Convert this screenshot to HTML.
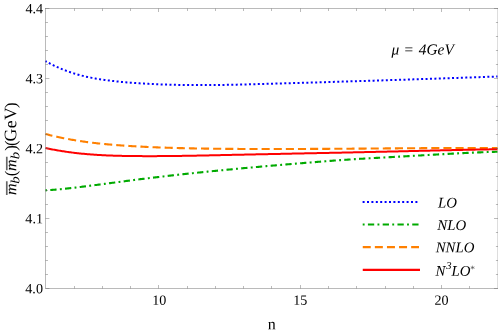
<!DOCTYPE html>
<html><head><meta charset="utf-8"><style>
html,body{margin:0;padding:0;background:#fff;}
body{width:498px;height:334px;overflow:hidden;position:relative;font-family:"Liberation Serif",serif;}
svg{position:absolute;left:0;top:0;}
g.txt{filter:grayscale(1);}
text{font-family:"Liberation Serif",serif;fill:#000;text-rendering:geometricPrecision;}
.tk{font-size:14.1px;}
.lg{font-size:14.8px;font-style:italic;}
</style></head><body>
<svg width="498" height="334" viewBox="0 0 498 334">
<rect x="0" y="0" width="498" height="334" fill="#fff"/>
<g fill="none" stroke-linecap="butt" stroke-linejoin="round">
<path d="M45.50,61.13 L46.63,61.76 L47.77,62.39 L48.90,62.99 L50.03,63.59 L51.16,64.17 L52.30,64.74 L53.43,65.30 L54.56,65.85 L55.70,66.38 L56.83,66.90 L57.96,67.41 L59.09,67.91 L60.23,68.39 L61.36,68.87 L62.49,69.33 L63.63,69.78 L64.76,70.22 L65.89,70.65 L67.02,71.07 L68.16,71.48 L69.29,71.88 L70.42,72.26 L71.56,72.64 L72.69,73.00 L73.82,73.36 L74.95,73.71 L76.09,74.05 L77.22,74.37 L78.35,74.69 L79.48,75.00 L80.62,75.30 L81.75,75.60 L82.88,75.88 L84.02,76.15 L85.15,76.42 L86.28,76.68 L87.41,76.93 L88.55,77.18 L89.68,77.41 L90.81,77.64 L91.95,77.87 L93.08,78.08 L94.21,78.29 L95.34,78.49 L96.48,78.69 L97.61,78.88 L98.74,79.07 L99.88,79.25 L101.01,79.42 L102.14,79.59 L103.27,79.76 L104.41,79.92 L105.54,80.07 L106.67,80.22 L107.81,80.37 L108.94,80.51 L110.07,80.65 L111.20,80.79 L112.34,80.92 L113.47,81.05 L114.60,81.18 L115.74,81.31 L116.87,81.43 L118.00,81.54 L119.13,81.66 L120.27,81.77 L121.40,81.88 L122.53,81.99 L123.67,82.09 L124.80,82.19 L125.93,82.29 L127.06,82.39 L128.20,82.48 L129.33,82.57 L130.46,82.67 L131.60,82.75 L132.73,82.84 L133.86,82.92 L134.99,83.01 L136.13,83.09 L137.26,83.17 L138.39,83.25 L139.53,83.32 L140.66,83.39 L141.79,83.47 L142.92,83.54 L144.06,83.60 L145.19,83.67 L146.32,83.74 L147.45,83.80 L148.59,83.86 L149.72,83.92 L150.85,83.98 L151.99,84.03 L153.12,84.09 L154.25,84.14 L155.38,84.19 L156.52,84.24 L157.65,84.29 L158.78,84.34 L159.92,84.38 L161.05,84.43 L162.18,84.47 L163.31,84.51 L164.45,84.55 L165.58,84.59 L166.71,84.62 L167.85,84.66 L168.98,84.69 L170.11,84.72 L171.24,84.75 L172.38,84.78 L173.51,84.81 L174.64,84.84 L175.78,84.86 L176.91,84.88 L178.04,84.91 L179.17,84.93 L180.31,84.95 L181.44,84.97 L182.57,84.98 L183.71,85.00 L184.84,85.01 L185.97,85.03 L187.10,85.04 L188.24,85.05 L189.37,85.06 L190.50,85.07 L191.64,85.08 L192.77,85.08 L193.90,85.09 L195.03,85.09 L196.17,85.10 L197.30,85.10 L198.43,85.10 L199.57,85.10 L200.70,85.10 L201.83,85.10 L202.96,85.09 L204.10,85.09 L205.23,85.09 L206.36,85.08 L207.49,85.07 L208.63,85.07 L209.76,85.06 L210.89,85.05 L212.03,85.04 L213.16,85.03 L214.29,85.02 L215.42,85.00 L216.56,84.99 L217.69,84.98 L218.82,84.96 L219.96,84.95 L221.09,84.93 L222.22,84.91 L223.35,84.89 L224.49,84.88 L225.62,84.86 L226.75,84.84 L227.89,84.82 L229.02,84.80 L230.15,84.78 L231.28,84.75 L232.42,84.73 L233.55,84.71 L234.68,84.68 L235.82,84.66 L236.95,84.63 L238.08,84.61 L239.21,84.58 L240.35,84.56 L241.48,84.53 L242.61,84.50 L243.75,84.48 L244.88,84.45 L246.01,84.42 L247.14,84.39 L248.28,84.36 L249.41,84.33 L250.54,84.30 L251.68,84.27 L252.81,84.24 L253.94,84.21 L255.07,84.18 L256.21,84.15 L257.34,84.12 L258.47,84.09 L259.61,84.06 L260.74,84.03 L261.87,83.99 L263.00,83.96 L264.14,83.93 L265.27,83.90 L266.40,83.87 L267.54,83.83 L268.67,83.80 L269.80,83.77 L270.93,83.74 L272.07,83.70 L273.20,83.67 L274.33,83.64 L275.46,83.61 L276.60,83.57 L277.73,83.54 L278.86,83.51 L280.00,83.47 L281.13,83.44 L282.26,83.41 L283.39,83.38 L284.53,83.34 L285.66,83.31 L286.79,83.28 L287.93,83.24 L289.06,83.21 L290.19,83.18 L291.32,83.14 L292.46,83.11 L293.59,83.08 L294.72,83.05 L295.86,83.01 L296.99,82.98 L298.12,82.95 L299.25,82.91 L300.39,82.88 L301.52,82.85 L302.65,82.81 L303.79,82.78 L304.92,82.74 L306.05,82.71 L307.18,82.68 L308.32,82.64 L309.45,82.61 L310.58,82.58 L311.72,82.54 L312.85,82.51 L313.98,82.48 L315.11,82.44 L316.25,82.41 L317.38,82.37 L318.51,82.34 L319.65,82.31 L320.78,82.27 L321.91,82.24 L323.04,82.20 L324.18,82.17 L325.31,82.14 L326.44,82.10 L327.58,82.07 L328.71,82.03 L329.84,82.00 L330.97,81.97 L332.11,81.93 L333.24,81.90 L334.37,81.86 L335.51,81.83 L336.64,81.79 L337.77,81.76 L338.90,81.72 L340.04,81.69 L341.17,81.65 L342.30,81.62 L343.43,81.59 L344.57,81.55 L345.70,81.52 L346.83,81.48 L347.97,81.45 L349.10,81.41 L350.23,81.38 L351.36,81.34 L352.50,81.31 L353.63,81.27 L354.76,81.24 L355.90,81.20 L357.03,81.17 L358.16,81.13 L359.29,81.10 L360.43,81.06 L361.56,81.03 L362.69,80.99 L363.83,80.96 L364.96,80.92 L366.09,80.88 L367.22,80.85 L368.36,80.81 L369.49,80.78 L370.62,80.74 L371.76,80.71 L372.89,80.67 L374.02,80.64 L375.15,80.60 L376.29,80.56 L377.42,80.53 L378.55,80.49 L379.69,80.46 L380.82,80.42 L381.95,80.39 L383.08,80.35 L384.22,80.31 L385.35,80.28 L386.48,80.24 L387.62,80.21 L388.75,80.17 L389.88,80.13 L391.01,80.10 L392.15,80.06 L393.28,80.02 L394.41,79.99 L395.55,79.95 L396.68,79.91 L397.81,79.88 L398.94,79.84 L400.08,79.81 L401.21,79.77 L402.34,79.73 L403.47,79.70 L404.61,79.66 L405.74,79.62 L406.87,79.59 L408.01,79.55 L409.14,79.51 L410.27,79.47 L411.40,79.44 L412.54,79.40 L413.67,79.36 L414.80,79.33 L415.94,79.29 L417.07,79.25 L418.20,79.22 L419.33,79.18 L420.47,79.14 L421.60,79.10 L422.73,79.07 L423.87,79.03 L425.00,78.99 L426.13,78.95 L427.26,78.92 L428.40,78.88 L429.53,78.84 L430.66,78.80 L431.80,78.77 L432.93,78.73 L434.06,78.69 L435.19,78.65 L436.33,78.61 L437.46,78.58 L438.59,78.54 L439.73,78.50 L440.86,78.46 L441.99,78.42 L443.12,78.39 L444.26,78.35 L445.39,78.31 L446.52,78.27 L447.66,78.23 L448.79,78.20 L449.92,78.16 L451.05,78.12 L452.19,78.08 L453.32,78.04 L454.45,78.00 L455.59,77.96 L456.72,77.93 L457.85,77.89 L458.98,77.85 L460.12,77.81 L461.25,77.77 L462.38,77.73 L463.52,77.69 L464.65,77.65 L465.78,77.62 L466.91,77.58 L468.05,77.54 L469.18,77.50 L470.31,77.46 L471.44,77.42 L472.58,77.38 L473.71,77.34 L474.84,77.30 L475.98,77.26 L477.11,77.22 L478.24,77.18 L479.37,77.14 L480.51,77.10 L481.64,77.07 L482.77,77.03 L483.91,76.99 L485.04,76.95 L486.17,76.91 L487.30,76.87 L488.44,76.83 L489.57,76.79 L490.70,76.75 L491.84,76.71 L492.97,76.67 L494.10,76.63 L495.23,76.59 L496.37,76.55 L497.50,76.51" stroke="#0000ff" stroke-width="2" stroke-dasharray="2 2.417" stroke-dashoffset="0.6"/>
<path d="M45.50,190.39 L46.63,190.32 L47.77,190.24 L48.90,190.16 L50.03,190.08 L51.16,190.00 L52.30,189.91 L53.43,189.82 L54.56,189.72 L55.70,189.63 L56.83,189.53 L57.96,189.42 L59.09,189.32 L60.23,189.21 L61.36,189.10 L62.49,188.99 L63.63,188.88 L64.76,188.76 L65.89,188.64 L67.02,188.52 L68.16,188.40 L69.29,188.27 L70.42,188.15 L71.56,188.02 L72.69,187.89 L73.82,187.76 L74.95,187.63 L76.09,187.49 L77.22,187.36 L78.35,187.22 L79.48,187.08 L80.62,186.94 L81.75,186.80 L82.88,186.66 L84.02,186.52 L85.15,186.38 L86.28,186.23 L87.41,186.09 L88.55,185.95 L89.68,185.80 L90.81,185.65 L91.95,185.51 L93.08,185.36 L94.21,185.21 L95.34,185.07 L96.48,184.92 L97.61,184.77 L98.74,184.62 L99.88,184.47 L101.01,184.33 L102.14,184.18 L103.27,184.03 L104.41,183.88 L105.54,183.73 L106.67,183.58 L107.81,183.43 L108.94,183.28 L110.07,183.13 L111.20,182.98 L112.34,182.83 L113.47,182.68 L114.60,182.53 L115.74,182.38 L116.87,182.23 L118.00,182.08 L119.13,181.93 L120.27,181.78 L121.40,181.63 L122.53,181.49 L123.67,181.34 L124.80,181.19 L125.93,181.04 L127.06,180.89 L128.20,180.75 L129.33,180.60 L130.46,180.45 L131.60,180.31 L132.73,180.16 L133.86,180.02 L134.99,179.87 L136.13,179.73 L137.26,179.59 L138.39,179.44 L139.53,179.30 L140.66,179.16 L141.79,179.02 L142.92,178.88 L144.06,178.74 L145.19,178.60 L146.32,178.46 L147.45,178.32 L148.59,178.18 L149.72,178.04 L150.85,177.91 L151.99,177.77 L153.12,177.63 L154.25,177.50 L155.38,177.36 L156.52,177.23 L157.65,177.10 L158.78,176.96 L159.92,176.83 L161.05,176.70 L162.18,176.56 L163.31,176.43 L164.45,176.30 L165.58,176.17 L166.71,176.04 L167.85,175.91 L168.98,175.78 L170.11,175.65 L171.24,175.53 L172.38,175.40 L173.51,175.27 L174.64,175.14 L175.78,175.02 L176.91,174.89 L178.04,174.77 L179.17,174.64 L180.31,174.52 L181.44,174.39 L182.57,174.27 L183.71,174.15 L184.84,174.02 L185.97,173.90 L187.10,173.78 L188.24,173.66 L189.37,173.54 L190.50,173.41 L191.64,173.29 L192.77,173.17 L193.90,173.06 L195.03,172.94 L196.17,172.82 L197.30,172.70 L198.43,172.58 L199.57,172.46 L200.70,172.35 L201.83,172.23 L202.96,172.11 L204.10,172.00 L205.23,171.88 L206.36,171.77 L207.49,171.65 L208.63,171.54 L209.76,171.42 L210.89,171.31 L212.03,171.20 L213.16,171.08 L214.29,170.97 L215.42,170.86 L216.56,170.75 L217.69,170.64 L218.82,170.53 L219.96,170.41 L221.09,170.30 L222.22,170.19 L223.35,170.08 L224.49,169.98 L225.62,169.87 L226.75,169.76 L227.89,169.65 L229.02,169.54 L230.15,169.43 L231.28,169.33 L232.42,169.22 L233.55,169.11 L234.68,169.01 L235.82,168.90 L236.95,168.79 L238.08,168.69 L239.21,168.58 L240.35,168.48 L241.48,168.37 L242.61,168.27 L243.75,168.17 L244.88,168.06 L246.01,167.96 L247.14,167.86 L248.28,167.75 L249.41,167.65 L250.54,167.55 L251.68,167.45 L252.81,167.34 L253.94,167.24 L255.07,167.14 L256.21,167.04 L257.34,166.94 L258.47,166.84 L259.61,166.74 L260.74,166.64 L261.87,166.54 L263.00,166.44 L264.14,166.34 L265.27,166.24 L266.40,166.14 L267.54,166.04 L268.67,165.95 L269.80,165.85 L270.93,165.75 L272.07,165.65 L273.20,165.55 L274.33,165.46 L275.46,165.36 L276.60,165.26 L277.73,165.17 L278.86,165.07 L280.00,164.98 L281.13,164.88 L282.26,164.78 L283.39,164.69 L284.53,164.59 L285.66,164.50 L286.79,164.40 L287.93,164.31 L289.06,164.21 L290.19,164.12 L291.32,164.03 L292.46,163.93 L293.59,163.84 L294.72,163.74 L295.86,163.65 L296.99,163.56 L298.12,163.46 L299.25,163.37 L300.39,163.28 L301.52,163.19 L302.65,163.09 L303.79,163.00 L304.92,162.91 L306.05,162.82 L307.18,162.72 L308.32,162.63 L309.45,162.54 L310.58,162.45 L311.72,162.36 L312.85,162.27 L313.98,162.18 L315.11,162.08 L316.25,161.99 L317.38,161.90 L318.51,161.81 L319.65,161.72 L320.78,161.63 L321.91,161.54 L323.04,161.45 L324.18,161.36 L325.31,161.27 L326.44,161.18 L327.58,161.09 L328.71,161.00 L329.84,160.92 L330.97,160.83 L332.11,160.74 L333.24,160.66 L334.37,160.57 L335.51,160.49 L336.64,160.40 L337.77,160.32 L338.90,160.24 L340.04,160.16 L341.17,160.08 L342.30,160.00 L343.43,159.92 L344.57,159.84 L345.70,159.76 L346.83,159.69 L347.97,159.61 L349.10,159.53 L350.23,159.46 L351.36,159.39 L352.50,159.31 L353.63,159.24 L354.76,159.17 L355.90,159.10 L357.03,159.03 L358.16,158.96 L359.29,158.89 L360.43,158.82 L361.56,158.75 L362.69,158.69 L363.83,158.62 L364.96,158.55 L366.09,158.49 L367.22,158.42 L368.36,158.35 L369.49,158.29 L370.62,158.22 L371.76,158.16 L372.89,158.10 L374.02,158.03 L375.15,157.97 L376.29,157.90 L377.42,157.84 L378.55,157.78 L379.69,157.72 L380.82,157.65 L381.95,157.59 L383.08,157.53 L384.22,157.47 L385.35,157.40 L386.48,157.34 L387.62,157.28 L388.75,157.22 L389.88,157.16 L391.01,157.09 L392.15,157.03 L393.28,156.97 L394.41,156.91 L395.55,156.84 L396.68,156.78 L397.81,156.72 L398.94,156.66 L400.08,156.59 L401.21,156.53 L402.34,156.46 L403.47,156.40 L404.61,156.34 L405.74,156.27 L406.87,156.21 L408.01,156.14 L409.14,156.08 L410.27,156.01 L411.40,155.95 L412.54,155.88 L413.67,155.82 L414.80,155.75 L415.94,155.69 L417.07,155.62 L418.20,155.56 L419.33,155.49 L420.47,155.43 L421.60,155.36 L422.73,155.29 L423.87,155.23 L425.00,155.16 L426.13,155.10 L427.26,155.03 L428.40,154.97 L429.53,154.90 L430.66,154.84 L431.80,154.78 L432.93,154.71 L434.06,154.65 L435.19,154.58 L436.33,154.52 L437.46,154.45 L438.59,154.39 L439.73,154.33 L440.86,154.27 L441.99,154.20 L443.12,154.14 L444.26,154.08 L445.39,154.02 L446.52,153.96 L447.66,153.89 L448.79,153.83 L449.92,153.77 L451.05,153.71 L452.19,153.65 L453.32,153.59 L454.45,153.54 L455.59,153.48 L456.72,153.42 L457.85,153.36 L458.98,153.30 L460.12,153.25 L461.25,153.19 L462.38,153.14 L463.52,153.08 L464.65,153.03 L465.78,152.97 L466.91,152.92 L468.05,152.87 L469.18,152.82 L470.31,152.76 L471.44,152.71 L472.58,152.66 L473.71,152.61 L474.84,152.56 L475.98,152.52 L477.11,152.47 L478.24,152.42 L479.37,152.38 L480.51,152.33 L481.64,152.29 L482.77,152.24 L483.91,152.20 L485.04,152.16 L486.17,152.11 L487.30,152.07 L488.44,152.03 L489.57,151.99 L490.70,151.96 L491.84,151.92 L492.97,151.88 L494.10,151.85 L495.23,151.81 L496.37,151.78 L497.50,151.75" stroke="#00aa00" stroke-width="2.1" stroke-dasharray="6.3 3.3 1.9 3.28" stroke-dashoffset="-4.81"/>
<path d="M45.50,134.01 L46.63,134.31 L47.77,134.60 L48.90,134.88 L50.03,135.16 L51.16,135.44 L52.30,135.71 L53.43,135.98 L54.56,136.24 L55.70,136.50 L56.83,136.75 L57.96,137.00 L59.09,137.24 L60.23,137.49 L61.36,137.72 L62.49,137.95 L63.63,138.18 L64.76,138.41 L65.89,138.62 L67.02,138.84 L68.16,139.05 L69.29,139.26 L70.42,139.46 L71.56,139.67 L72.69,139.86 L73.82,140.05 L74.95,140.24 L76.09,140.43 L77.22,140.61 L78.35,140.79 L79.48,140.97 L80.62,141.14 L81.75,141.31 L82.88,141.47 L84.02,141.63 L85.15,141.79 L86.28,141.95 L87.41,142.10 L88.55,142.25 L89.68,142.39 L90.81,142.54 L91.95,142.68 L93.08,142.81 L94.21,142.95 L95.34,143.08 L96.48,143.21 L97.61,143.34 L98.74,143.46 L99.88,143.58 L101.01,143.70 L102.14,143.82 L103.27,143.93 L104.41,144.04 L105.54,144.15 L106.67,144.26 L107.81,144.36 L108.94,144.46 L110.07,144.56 L111.20,144.66 L112.34,144.75 L113.47,144.85 L114.60,144.94 L115.74,145.03 L116.87,145.12 L118.00,145.20 L119.13,145.29 L120.27,145.37 L121.40,145.45 L122.53,145.53 L123.67,145.61 L124.80,145.68 L125.93,145.76 L127.06,145.83 L128.20,145.90 L129.33,145.97 L130.46,146.04 L131.60,146.11 L132.73,146.18 L133.86,146.24 L134.99,146.31 L136.13,146.37 L137.26,146.43 L138.39,146.49 L139.53,146.55 L140.66,146.61 L141.79,146.67 L142.92,146.73 L144.06,146.78 L145.19,146.84 L146.32,146.89 L147.45,146.95 L148.59,147.00 L149.72,147.05 L150.85,147.10 L151.99,147.15 L153.12,147.20 L154.25,147.24 L155.38,147.29 L156.52,147.34 L157.65,147.38 L158.78,147.43 L159.92,147.47 L161.05,147.51 L162.18,147.55 L163.31,147.59 L164.45,147.63 L165.58,147.67 L166.71,147.71 L167.85,147.75 L168.98,147.79 L170.11,147.82 L171.24,147.86 L172.38,147.89 L173.51,147.93 L174.64,147.96 L175.78,147.99 L176.91,148.02 L178.04,148.05 L179.17,148.08 L180.31,148.11 L181.44,148.14 L182.57,148.17 L183.71,148.20 L184.84,148.22 L185.97,148.25 L187.10,148.28 L188.24,148.30 L189.37,148.32 L190.50,148.35 L191.64,148.37 L192.77,148.39 L193.90,148.42 L195.03,148.44 L196.17,148.46 L197.30,148.48 L198.43,148.50 L199.57,148.52 L200.70,148.54 L201.83,148.55 L202.96,148.57 L204.10,148.59 L205.23,148.61 L206.36,148.62 L207.49,148.64 L208.63,148.65 L209.76,148.67 L210.89,148.68 L212.03,148.70 L213.16,148.71 L214.29,148.72 L215.42,148.74 L216.56,148.75 L217.69,148.76 L218.82,148.77 L219.96,148.78 L221.09,148.79 L222.22,148.81 L223.35,148.82 L224.49,148.83 L225.62,148.84 L226.75,148.84 L227.89,148.85 L229.02,148.86 L230.15,148.87 L231.28,148.88 L232.42,148.89 L233.55,148.90 L234.68,148.90 L235.82,148.91 L236.95,148.92 L238.08,148.92 L239.21,148.93 L240.35,148.94 L241.48,148.94 L242.61,148.95 L243.75,148.95 L244.88,148.96 L246.01,148.96 L247.14,148.97 L248.28,148.97 L249.41,148.98 L250.54,148.98 L251.68,148.99 L252.81,148.99 L253.94,148.99 L255.07,149.00 L256.21,149.00 L257.34,149.00 L258.47,149.00 L259.61,149.01 L260.74,149.01 L261.87,149.01 L263.00,149.01 L264.14,149.01 L265.27,149.01 L266.40,149.02 L267.54,149.02 L268.67,149.02 L269.80,149.02 L270.93,149.02 L272.07,149.02 L273.20,149.02 L274.33,149.02 L275.46,149.02 L276.60,149.02 L277.73,149.02 L278.86,149.02 L280.00,149.01 L281.13,149.01 L282.26,149.01 L283.39,149.01 L284.53,149.01 L285.66,149.01 L286.79,149.00 L287.93,149.00 L289.06,149.00 L290.19,149.00 L291.32,148.99 L292.46,148.99 L293.59,148.99 L294.72,148.98 L295.86,148.98 L296.99,148.98 L298.12,148.97 L299.25,148.97 L300.39,148.97 L301.52,148.96 L302.65,148.96 L303.79,148.95 L304.92,148.95 L306.05,148.94 L307.18,148.94 L308.32,148.93 L309.45,148.93 L310.58,148.92 L311.72,148.92 L312.85,148.91 L313.98,148.91 L315.11,148.90 L316.25,148.90 L317.38,148.89 L318.51,148.89 L319.65,148.88 L320.78,148.87 L321.91,148.87 L323.04,148.86 L324.18,148.85 L325.31,148.85 L326.44,148.84 L327.58,148.83 L328.71,148.83 L329.84,148.82 L330.97,148.81 L332.11,148.81 L333.24,148.80 L334.37,148.79 L335.51,148.79 L336.64,148.78 L337.77,148.77 L338.90,148.76 L340.04,148.76 L341.17,148.75 L342.30,148.74 L343.43,148.73 L344.57,148.73 L345.70,148.72 L346.83,148.71 L347.97,148.70 L349.10,148.69 L350.23,148.69 L351.36,148.68 L352.50,148.67 L353.63,148.66 L354.76,148.65 L355.90,148.64 L357.03,148.64 L358.16,148.63 L359.29,148.62 L360.43,148.61 L361.56,148.60 L362.69,148.59 L363.83,148.59 L364.96,148.58 L366.09,148.57 L367.22,148.56 L368.36,148.55 L369.49,148.54 L370.62,148.54 L371.76,148.53 L372.89,148.52 L374.02,148.51 L375.15,148.50 L376.29,148.49 L377.42,148.48 L378.55,148.48 L379.69,148.47 L380.82,148.46 L381.95,148.45 L383.08,148.44 L384.22,148.43 L385.35,148.42 L386.48,148.42 L387.62,148.41 L388.75,148.40 L389.88,148.39 L391.01,148.38 L392.15,148.37 L393.28,148.37 L394.41,148.36 L395.55,148.35 L396.68,148.34 L397.81,148.33 L398.94,148.32 L400.08,148.32 L401.21,148.31 L402.34,148.30 L403.47,148.29 L404.61,148.28 L405.74,148.28 L406.87,148.27 L408.01,148.26 L409.14,148.25 L410.27,148.25 L411.40,148.24 L412.54,148.23 L413.67,148.22 L414.80,148.22 L415.94,148.21 L417.07,148.20 L418.20,148.19 L419.33,148.19 L420.47,148.18 L421.60,148.17 L422.73,148.17 L423.87,148.16 L425.00,148.15 L426.13,148.15 L427.26,148.14 L428.40,148.13 L429.53,148.13 L430.66,148.12 L431.80,148.12 L432.93,148.11 L434.06,148.10 L435.19,148.10 L436.33,148.09 L437.46,148.09 L438.59,148.08 L439.73,148.08 L440.86,148.07 L441.99,148.07 L443.12,148.06 L444.26,148.06 L445.39,148.05 L446.52,148.05 L447.66,148.04 L448.79,148.04 L449.92,148.03 L451.05,148.03 L452.19,148.03 L453.32,148.02 L454.45,148.02 L455.59,148.01 L456.72,148.01 L457.85,148.01 L458.98,148.01 L460.12,148.00 L461.25,148.00 L462.38,148.00 L463.52,147.99 L464.65,147.99 L465.78,147.99 L466.91,147.99 L468.05,147.99 L469.18,147.98 L470.31,147.98 L471.44,147.98 L472.58,147.98 L473.71,147.98 L474.84,147.98 L475.98,147.98 L477.11,147.98 L478.24,147.98 L479.37,147.98 L480.51,147.98 L481.64,147.98 L482.77,147.98 L483.91,147.98 L485.04,147.98 L486.17,147.98 L487.30,147.98 L488.44,147.99 L489.57,147.99 L490.70,147.99 L491.84,147.99 L492.97,147.99 L494.10,148.00 L495.23,148.00 L496.37,148.00 L497.50,148.01" stroke="#ff8000" stroke-width="2.1" stroke-dasharray="8.1 4.02" stroke-dashoffset="-11.10"/>
<path d="M45.50,147.99 L46.63,148.24 L47.77,148.48 L48.90,148.71 L50.03,148.95 L51.16,149.17 L52.30,149.40 L53.43,149.61 L54.56,149.83 L55.70,150.03 L56.83,150.24 L57.96,150.44 L59.09,150.63 L60.23,150.82 L61.36,151.00 L62.49,151.19 L63.63,151.36 L64.76,151.53 L65.89,151.70 L67.02,151.87 L68.16,152.03 L69.29,152.18 L70.42,152.33 L71.56,152.48 L72.69,152.62 L73.82,152.76 L74.95,152.90 L76.09,153.03 L77.22,153.16 L78.35,153.29 L79.48,153.41 L80.62,153.53 L81.75,153.64 L82.88,153.75 L84.02,153.86 L85.15,153.96 L86.28,154.06 L87.41,154.16 L88.55,154.26 L89.68,154.35 L90.81,154.44 L91.95,154.52 L93.08,154.60 L94.21,154.68 L95.34,154.76 L96.48,154.83 L97.61,154.91 L98.74,154.97 L99.88,155.04 L101.01,155.10 L102.14,155.17 L103.27,155.22 L104.41,155.28 L105.54,155.33 L106.67,155.38 L107.81,155.43 L108.94,155.48 L110.07,155.53 L111.20,155.57 L112.34,155.61 L113.47,155.65 L114.60,155.68 L115.74,155.72 L116.87,155.75 L118.00,155.78 L119.13,155.81 L120.27,155.84 L121.40,155.87 L122.53,155.89 L123.67,155.92 L124.80,155.94 L125.93,155.96 L127.06,155.98 L128.20,155.99 L129.33,156.01 L130.46,156.03 L131.60,156.04 L132.73,156.05 L133.86,156.07 L134.99,156.08 L136.13,156.09 L137.26,156.10 L138.39,156.10 L139.53,156.11 L140.66,156.12 L141.79,156.12 L142.92,156.13 L144.06,156.13 L145.19,156.14 L146.32,156.14 L147.45,156.14 L148.59,156.14 L149.72,156.14 L150.85,156.14 L151.99,156.14 L153.12,156.14 L154.25,156.14 L155.38,156.13 L156.52,156.13 L157.65,156.12 L158.78,156.12 L159.92,156.11 L161.05,156.11 L162.18,156.10 L163.31,156.09 L164.45,156.08 L165.58,156.07 L166.71,156.06 L167.85,156.05 L168.98,156.04 L170.11,156.03 L171.24,156.02 L172.38,156.00 L173.51,155.99 L174.64,155.98 L175.78,155.96 L176.91,155.95 L178.04,155.93 L179.17,155.92 L180.31,155.90 L181.44,155.88 L182.57,155.87 L183.71,155.85 L184.84,155.83 L185.97,155.81 L187.10,155.80 L188.24,155.78 L189.37,155.76 L190.50,155.74 L191.64,155.72 L192.77,155.70 L193.90,155.68 L195.03,155.66 L196.17,155.63 L197.30,155.61 L198.43,155.59 L199.57,155.57 L200.70,155.55 L201.83,155.52 L202.96,155.50 L204.10,155.48 L205.23,155.46 L206.36,155.43 L207.49,155.41 L208.63,155.39 L209.76,155.36 L210.89,155.34 L212.03,155.31 L213.16,155.29 L214.29,155.26 L215.42,155.24 L216.56,155.22 L217.69,155.19 L218.82,155.17 L219.96,155.14 L221.09,155.12 L222.22,155.09 L223.35,155.07 L224.49,155.04 L225.62,155.02 L226.75,154.99 L227.89,154.97 L229.02,154.94 L230.15,154.92 L231.28,154.89 L232.42,154.87 L233.55,154.84 L234.68,154.82 L235.82,154.80 L236.95,154.77 L238.08,154.75 L239.21,154.72 L240.35,154.70 L241.48,154.67 L242.61,154.65 L243.75,154.63 L244.88,154.60 L246.01,154.58 L247.14,154.55 L248.28,154.53 L249.41,154.51 L250.54,154.48 L251.68,154.46 L252.81,154.44 L253.94,154.41 L255.07,154.39 L256.21,154.36 L257.34,154.34 L258.47,154.32 L259.61,154.29 L260.74,154.27 L261.87,154.25 L263.00,154.22 L264.14,154.20 L265.27,154.18 L266.40,154.15 L267.54,154.13 L268.67,154.11 L269.80,154.08 L270.93,154.06 L272.07,154.04 L273.20,154.02 L274.33,153.99 L275.46,153.97 L276.60,153.95 L277.73,153.92 L278.86,153.90 L280.00,153.88 L281.13,153.85 L282.26,153.83 L283.39,153.81 L284.53,153.79 L285.66,153.76 L286.79,153.74 L287.93,153.72 L289.06,153.69 L290.19,153.67 L291.32,153.65 L292.46,153.62 L293.59,153.60 L294.72,153.58 L295.86,153.56 L296.99,153.53 L298.12,153.51 L299.25,153.49 L300.39,153.46 L301.52,153.44 L302.65,153.42 L303.79,153.40 L304.92,153.37 L306.05,153.35 L307.18,153.33 L308.32,153.30 L309.45,153.28 L310.58,153.26 L311.72,153.24 L312.85,153.21 L313.98,153.19 L315.11,153.17 L316.25,153.14 L317.38,153.12 L318.51,153.10 L319.65,153.07 L320.78,153.05 L321.91,153.03 L323.04,153.01 L324.18,152.98 L325.31,152.96 L326.44,152.94 L327.58,152.91 L328.71,152.89 L329.84,152.87 L330.97,152.84 L332.11,152.82 L333.24,152.80 L334.37,152.77 L335.51,152.75 L336.64,152.73 L337.77,152.70 L338.90,152.68 L340.04,152.65 L341.17,152.63 L342.30,152.61 L343.43,152.58 L344.57,152.56 L345.70,152.54 L346.83,152.51 L347.97,152.49 L349.10,152.46 L350.23,152.44 L351.36,152.42 L352.50,152.39 L353.63,152.37 L354.76,152.34 L355.90,152.32 L357.03,152.30 L358.16,152.27 L359.29,152.25 L360.43,152.22 L361.56,152.20 L362.69,152.17 L363.83,152.15 L364.96,152.12 L366.09,152.10 L367.22,152.07 L368.36,152.05 L369.49,152.02 L370.62,152.00 L371.76,151.97 L372.89,151.95 L374.02,151.92 L375.15,151.90 L376.29,151.87 L377.42,151.85 L378.55,151.82 L379.69,151.80 L380.82,151.77 L381.95,151.74 L383.08,151.72 L384.22,151.69 L385.35,151.67 L386.48,151.64 L387.62,151.61 L388.75,151.59 L389.88,151.56 L391.01,151.54 L392.15,151.51 L393.28,151.48 L394.41,151.46 L395.55,151.43 L396.68,151.40 L397.81,151.38 L398.94,151.35 L400.08,151.32 L401.21,151.30 L402.34,151.27 L403.47,151.24 L404.61,151.22 L405.74,151.19 L406.87,151.16 L408.01,151.14 L409.14,151.11 L410.27,151.08 L411.40,151.06 L412.54,151.03 L413.67,151.00 L414.80,150.98 L415.94,150.95 L417.07,150.92 L418.20,150.90 L419.33,150.87 L420.47,150.84 L421.60,150.82 L422.73,150.79 L423.87,150.76 L425.00,150.74 L426.13,150.71 L427.26,150.68 L428.40,150.66 L429.53,150.63 L430.66,150.60 L431.80,150.58 L432.93,150.55 L434.06,150.53 L435.19,150.50 L436.33,150.47 L437.46,150.45 L438.59,150.42 L439.73,150.39 L440.86,150.37 L441.99,150.34 L443.12,150.32 L444.26,150.29 L445.39,150.27 L446.52,150.24 L447.66,150.21 L448.79,150.19 L449.92,150.16 L451.05,150.14 L452.19,150.11 L453.32,150.09 L454.45,150.06 L455.59,150.04 L456.72,150.01 L457.85,149.99 L458.98,149.97 L460.12,149.94 L461.25,149.92 L462.38,149.89 L463.52,149.87 L464.65,149.84 L465.78,149.82 L466.91,149.80 L468.05,149.77 L469.18,149.75 L470.31,149.73 L471.44,149.70 L472.58,149.68 L473.71,149.66 L474.84,149.64 L475.98,149.61 L477.11,149.59 L478.24,149.57 L479.37,149.55 L480.51,149.52 L481.64,149.50 L482.77,149.48 L483.91,149.46 L485.04,149.44 L486.17,149.42 L487.30,149.40 L488.44,149.38 L489.57,149.36 L490.70,149.33 L491.84,149.31 L492.97,149.29 L494.10,149.28 L495.23,149.26 L496.37,149.24 L497.50,149.22" stroke="#ff0000" stroke-width="2.0"/>
</g>
<g stroke="#666" stroke-width="0.45" fill="none">
<rect x="45.5" y="8.5" width="452.5" height="280.0"/>
<line x1="74.50" y1="288.5" x2="74.50" y2="286.0"/>
<line x1="74.50" y1="8.5" x2="74.50" y2="11.0"/>
<line x1="102.50" y1="288.5" x2="102.50" y2="286.0"/>
<line x1="102.50" y1="8.5" x2="102.50" y2="11.0"/>
<line x1="130.50" y1="288.5" x2="130.50" y2="286.0"/>
<line x1="130.50" y1="8.5" x2="130.50" y2="11.0"/>
<line x1="158.50" y1="288.5" x2="158.50" y2="285.0"/>
<line x1="158.50" y1="8.5" x2="158.50" y2="12.0"/>
<line x1="187.50" y1="288.5" x2="187.50" y2="286.0"/>
<line x1="187.50" y1="8.5" x2="187.50" y2="11.0"/>
<line x1="215.50" y1="288.5" x2="215.50" y2="286.0"/>
<line x1="215.50" y1="8.5" x2="215.50" y2="11.0"/>
<line x1="243.50" y1="288.5" x2="243.50" y2="286.0"/>
<line x1="243.50" y1="8.5" x2="243.50" y2="11.0"/>
<line x1="271.50" y1="288.5" x2="271.50" y2="286.0"/>
<line x1="271.50" y1="8.5" x2="271.50" y2="11.0"/>
<line x1="300.50" y1="288.5" x2="300.50" y2="285.0"/>
<line x1="300.50" y1="8.5" x2="300.50" y2="12.0"/>
<line x1="328.50" y1="288.5" x2="328.50" y2="286.0"/>
<line x1="328.50" y1="8.5" x2="328.50" y2="11.0"/>
<line x1="356.50" y1="288.5" x2="356.50" y2="286.0"/>
<line x1="356.50" y1="8.5" x2="356.50" y2="11.0"/>
<line x1="385.50" y1="288.5" x2="385.50" y2="286.0"/>
<line x1="385.50" y1="8.5" x2="385.50" y2="11.0"/>
<line x1="413.50" y1="288.5" x2="413.50" y2="286.0"/>
<line x1="413.50" y1="8.5" x2="413.50" y2="11.0"/>
<line x1="441.50" y1="288.5" x2="441.50" y2="285.0"/>
<line x1="441.50" y1="8.5" x2="441.50" y2="12.0"/>
<line x1="469.50" y1="288.5" x2="469.50" y2="286.0"/>
<line x1="469.50" y1="8.5" x2="469.50" y2="11.0"/>
<line x1="45.5" y1="288.50" x2="49.4" y2="288.50"/>
<line x1="498.0" y1="288.50" x2="494.0" y2="288.50"/>
<line x1="45.5" y1="274.50" x2="48.0" y2="274.50"/>
<line x1="498.0" y1="274.50" x2="495.9" y2="274.50"/>
<line x1="45.5" y1="260.50" x2="48.0" y2="260.50"/>
<line x1="498.0" y1="260.50" x2="495.9" y2="260.50"/>
<line x1="45.5" y1="246.50" x2="48.0" y2="246.50"/>
<line x1="498.0" y1="246.50" x2="495.9" y2="246.50"/>
<line x1="45.5" y1="232.50" x2="48.0" y2="232.50"/>
<line x1="498.0" y1="232.50" x2="495.9" y2="232.50"/>
<line x1="45.5" y1="218.50" x2="49.4" y2="218.50"/>
<line x1="498.0" y1="218.50" x2="494.0" y2="218.50"/>
<line x1="45.5" y1="204.50" x2="48.0" y2="204.50"/>
<line x1="498.0" y1="204.50" x2="495.9" y2="204.50"/>
<line x1="45.5" y1="190.50" x2="48.0" y2="190.50"/>
<line x1="498.0" y1="190.50" x2="495.9" y2="190.50"/>
<line x1="45.5" y1="176.50" x2="48.0" y2="176.50"/>
<line x1="498.0" y1="176.50" x2="495.9" y2="176.50"/>
<line x1="45.5" y1="162.50" x2="48.0" y2="162.50"/>
<line x1="498.0" y1="162.50" x2="495.9" y2="162.50"/>
<line x1="45.5" y1="148.50" x2="49.4" y2="148.50"/>
<line x1="498.0" y1="148.50" x2="494.0" y2="148.50"/>
<line x1="45.5" y1="134.50" x2="48.0" y2="134.50"/>
<line x1="498.0" y1="134.50" x2="495.9" y2="134.50"/>
<line x1="45.5" y1="120.50" x2="48.0" y2="120.50"/>
<line x1="498.0" y1="120.50" x2="495.9" y2="120.50"/>
<line x1="45.5" y1="106.50" x2="48.0" y2="106.50"/>
<line x1="498.0" y1="106.50" x2="495.9" y2="106.50"/>
<line x1="45.5" y1="92.50" x2="48.0" y2="92.50"/>
<line x1="498.0" y1="92.50" x2="495.9" y2="92.50"/>
<line x1="45.5" y1="78.50" x2="49.4" y2="78.50"/>
<line x1="498.0" y1="78.50" x2="494.0" y2="78.50"/>
<line x1="45.5" y1="64.50" x2="48.0" y2="64.50"/>
<line x1="498.0" y1="64.50" x2="495.9" y2="64.50"/>
<line x1="45.5" y1="50.50" x2="48.0" y2="50.50"/>
<line x1="498.0" y1="50.50" x2="495.9" y2="50.50"/>
<line x1="45.5" y1="36.50" x2="48.0" y2="36.50"/>
<line x1="498.0" y1="36.50" x2="495.9" y2="36.50"/>
<line x1="45.5" y1="22.50" x2="48.0" y2="22.50"/>
<line x1="498.0" y1="22.50" x2="495.9" y2="22.50"/>
<line x1="45.5" y1="8.50" x2="49.4" y2="8.50"/>
<line x1="498.0" y1="8.50" x2="494.0" y2="8.50"/>
</g>
<g fill="none" id="leg">
<line x1="362.6" x2="417.5" y1="202" y2="202" stroke="#0000ff" stroke-width="2" stroke-dasharray="2 2.4"/>
<line x1="362.7" x2="418.6" y1="224.5" y2="224.5" stroke="#00aa00" stroke-width="2.1" stroke-dasharray="1.9 3.3 6.3 3.28"/>
<line x1="362.75" x2="419" y1="247.1" y2="247.1" stroke="#ff8000" stroke-width="2.1" stroke-dasharray="8.0 4.1"/>
<line x1="362.75" x2="420" y1="269.9" y2="269.9" stroke="#ff0000" stroke-width="2.1"/>
</g>
<g class="txt" transform="rotate(0.03 249 167)">
<text x="43" y="293.40" text-anchor="end" class="tk">4.0</text>
<text x="43" y="223.40" text-anchor="end" class="tk">4.1</text>
<text x="43" y="153.40" text-anchor="end" class="tk">4.2</text>
<text x="43" y="83.40" text-anchor="end" class="tk">4.3</text>
<text x="43" y="13.40" text-anchor="end" class="tk">4.4</text>
<text x="159.3" y="304.7" text-anchor="middle" class="tk">10</text>
<text x="300.3" y="304.7" text-anchor="middle" class="tk">15</text>
<text x="441.5" y="304.7" text-anchor="middle" class="tk">20</text>
<text x="438.0" y="207.3" class="lg">LO</text>
<text x="437.4" y="229.9" class="lg">NLO</text>
<text x="435.8" y="252.2" class="lg">NNLO</text>
<text x="435.5" y="275.6" class="lg">N</text>
<text x="446.3" y="268.9" class="lg" style="font-size:10.6px">3</text>
<text x="451.6" y="275.6" class="lg">LO</text>
<text x="469.9" y="271.8" class="lg" style="font-size:9.5px;fill:#444">*</text>
<text x="391.5" y="54.5" class="lg" style="font-size:15.4px">μ<tspan dx="4.1">=</tspan><tspan dx="5.0">4GeV</tspan></text>
<text x="271.8" y="329.2" text-anchor="middle" style="font-size:16px">n</text>
<g transform="translate(16.3,195.4) rotate(-90)" style="font-size:16.6px">
<text x="0.2" y="0" font-style="italic" font-size="16">m</text>
<line x1="0.3" x2="14.1" y1="-9.5" y2="-9.5" stroke="#666" stroke-width="1.7"/>
<text transform="translate(11.6,2.9) scale(1.2,1)" font-style="italic" font-size="12.5">b</text>
<text x="19" y="0">(</text>
<text x="24.4" y="0" font-style="italic" font-size="16">m</text>
<line x1="25" x2="38.4" y1="-9.5" y2="-9.5" stroke="#666" stroke-width="1.7"/>
<text transform="translate(36.1,2.9) scale(1.2,1)" font-style="italic" font-size="12.5">b</text>
<text x="44.5" y="0">)</text>
<text x="49.2" y="0">(</text>
<text x="53.7" y="0" font-size="17.6">G</text>
<text x="67.1" y="0" font-size="17.6">e</text>
<text x="75.4" y="0" font-size="17.6">V</text>
<text x="87.2" y="0">)</text>

</g>
</g>
</svg>

</body></html>
